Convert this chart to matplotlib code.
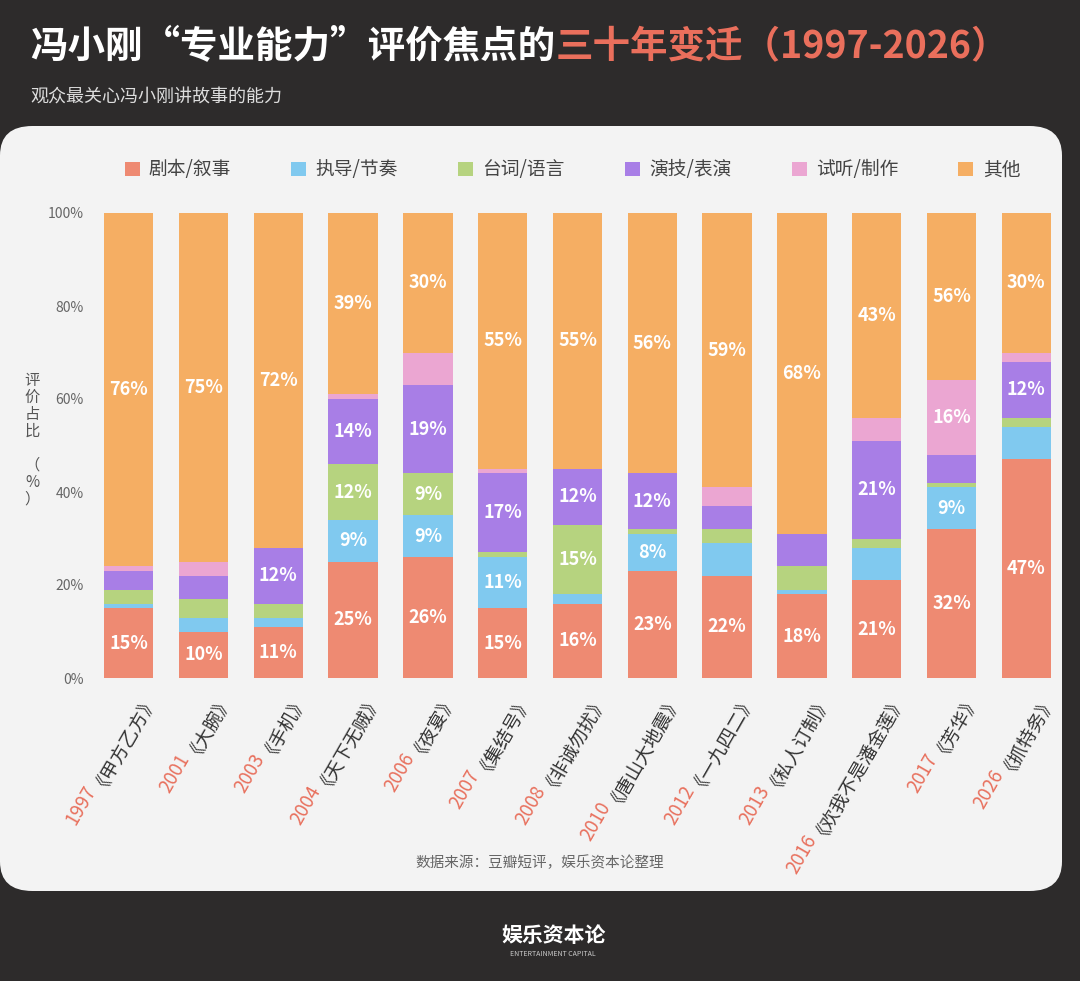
import matplotlib.pyplot as plt
from matplotlib.patches import FancyBboxPatch
import numpy as np

plt.rcParams['font.family'] = ['Noto Sans CJK SC', 'DejaVu Sans']

years = ["1997", "2001", "2003", "2004", "2006", "2007", "2008", "2010", "2012", "2013", "2016", "2017", "2026"]
films = ["《甲方乙方》", "《大腕》", "《手机》", "《天下无贼》", "《夜宴》", "《集结号》", "《非诚勿扰》",
         "《唐山大地震》", "《一九四二》", "《私人订制》", "《欢我不是潘金莲》", "《芳华》", "《抓特务》"]

script_vals = [15, 10, 11, 25, 26, 15, 16, 23, 22, 18, 21, 32, 47]
direct_vals = [1, 3, 2, 9, 9, 11, 2, 8, 7, 1, 7, 9, 7]
line_vals = [3, 4, 3, 12, 9, 1, 15, 1, 3, 5, 2, 1, 2]
acting_vals = [4, 5, 12, 14, 19, 17, 12, 12, 5, 7, 21, 6, 12]
av_vals = [1, 3, 0, 1, 7, 1, 0, 0, 4, 0, 5, 16, 2]
other_vals = [76, 75, 72, 39, 30, 55, 55, 56, 59, 69, 44, 36, 30]
other_labels = ["76%", "75%", "72%", "39%", "30%", "55%", "55%", "56%", "59%", "68%", "43%", "56%", "30%"]

series = ["剧本/叙事", "执导/节奏", "台词/语言", "演技/表演", "试听/制作", "其他"]
colors = ["#ee8a72", "#80c9ef", "#b6d37f", "#a87ee6", "#eba6d2", "#f5ae63"]
values = [script_vals, direct_vals, line_vals, acting_vals, av_vals, other_vals]

W, H = 1080, 981
fig = plt.figure(figsize=(W / 100, H / 100), dpi=100, facecolor="#2d2b2b")

# background panel
panel = FancyBboxPatch((0.0, 90 / H), 1062 / W, 765 / H, boxstyle="round,pad=0,rounding_size=0.03",
                       transform=fig.transFigure, facecolor="#f3f3f3", edgecolor="none", zorder=-5)
fig.patches.append(panel)

# title
t1 = fig.text(30 / W, 1 - 47 / H, "冯小刚“专业能力”评价焦点的", color="white", fontsize=27,
              fontweight="bold", va="center")
fig.canvas.draw()
bb = t1.get_window_extent()
fig.text(bb.x1 / W, 1 - 47 / H, "三十年变迁（1997-2026）", color="#ea6f5c", fontsize=27,
         fontweight="bold", va="center")
fig.text(30 / W, 1 - 98 / H, "观众最关心冯小刚讲故事的能力", color="#dddddd", fontsize=13, va="center")

ax = fig.add_axes([95 / W, 1 - 678 / H, 965 / W, 465 / H], zorder=2)
ax.set_facecolor("none")
x = np.arange(len(years))
bottom = np.zeros(len(years))
for k, (name, vals, c) in enumerate(zip(series, values, colors)):
    vals = np.array(vals, dtype=float)
    ax.bar(x, vals, bottom=bottom, width=0.66, color=c, label=name, edgecolor="none")
    for i, v in enumerate(vals):
        if k == 5:
            txt = other_labels[i]
        elif v >= 8:
            txt = f"{int(v)}%"
        else:
            txt = ""
        if txt:
            ax.text(i, bottom[i] + v / 2, txt, ha="center", va="center", color="white",
                    fontsize=13, fontweight="bold")
    bottom += vals

ax.set_xlim(-0.45, len(years) - 0.55)
ax.set_ylim(0, 100)
ax.set_yticks(range(0, 101, 20))
ax.set_yticklabels([f"{v}%" for v in range(0, 101, 20)], color="#666666", fontsize=10)
ax.tick_params(axis="y", length=0, pad=8)
ax.set_xticks([])
for s in ax.spines.values():
    s.set_visible(False)

fig.text(32 / W, 1 - 440 / H, "评\n价\n占\n比\n\n（\n%\n）", color="#555555", fontsize=11,
         ha="center", va="center", linespacing=1.0)

# x labels: year in red, film name in dark, rotated
fs = 13.5
ang = np.deg2rad(60)
dx, dy = 8, -4
for i in range(len(years)):
    ax.annotate(films[i], xy=(i, 0), xycoords=ax.get_xaxis_transform(), xytext=(dx, dy),
                textcoords="offset points", rotation=60, rotation_mode="anchor",
                ha="right", va="top", fontsize=fs, color="#333333", fontweight="medium",
                annotation_clip=False)
    L = len(films[i]) * fs + 1
    ax.annotate(years[i], xy=(i, 0), xycoords=ax.get_xaxis_transform(),
                xytext=(dx - L * np.cos(ang), dy - L * np.sin(ang)),
                textcoords="offset points", rotation=60, rotation_mode="anchor",
                ha="right", va="top", fontsize=fs, color="#e8705d", fontweight="medium",
                annotation_clip=False)

leg = fig.legend(*ax.get_legend_handles_labels(), loc="center", bbox_to_anchor=(0.53, 1 - 170 / H),
                 ncol=6, frameon=False, fontsize=13.5, handlelength=0.8, handleheight=0.8,
                 columnspacing=3.2, handletextpad=0.5)
for t in leg.get_texts():
    t.set_color("#444444")

fig.text(540 / W, 1 - 863 / H, "数据来源：豆瓣短评，娱乐资本论整理", color="#666666", fontsize=10.5,
         ha="center", va="center")
fig.text(553 / W, 1 - 935 / H, "娱乐资本论", color="white", fontsize=15, ha="center", va="center",
         fontweight="bold")
fig.text(553 / W, 1 - 954 / H, "ENTERTAINMENT CAPITAL", color="#cccccc", fontsize=5, ha="center",
         va="center")

fig.savefig("out.png", dpi=100, facecolor=fig.get_facecolor())
